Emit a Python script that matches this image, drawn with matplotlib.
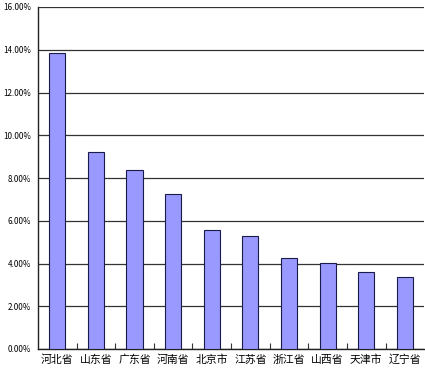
import matplotlib
matplotlib.use("Agg")
import matplotlib.pyplot as plt
from matplotlib.ticker import FuncFormatter, MultipleLocator, FixedLocator
import numpy as np

plt.rcParams['font.family'] = ['Noto Sans CJK SC', 'DejaVu Sans']

categories = ['河北省', '山东省', '广东省', '河南省', '北京市', '江苏省', '浙江省', '山西省', '天津市', '辽宁省']
values = [13.85, 9.22, 8.37, 7.25, 5.57, 5.28, 4.25, 4.02, 3.60, 3.37]

fig = plt.figure(figsize=(4.25, 3.75), dpi=100)
ax = fig.add_axes([38/425, 1 - 349/375, 1 - 38/425 - 0.002, (349 - 7)/375])

x = np.arange(len(categories))
ax.bar(x, values, width=0.42, color='#9999FF', edgecolor='#1a1a4d', linewidth=0.8, zorder=3)

ax.set_xlim(-0.5, len(categories) - 0.5)
ax.set_ylim(0, 16)
ax.yaxis.set_major_locator(MultipleLocator(2))
ax.yaxis.set_major_formatter(FuncFormatter(lambda v, p: f'{v:.2f}%'))
ax.grid(axis='y', color='#333333', linewidth=0.9, zorder=0)

ax.set_xticks(x)
ax.set_xticklabels(categories, fontsize=7.8)
ax.tick_params(axis='x', length=0, pad=4)
ax.xaxis.set_minor_locator(FixedLocator(np.arange(0.5, len(categories) - 0.5, 1)))
ax.tick_params(axis='x', which='minor', direction='in', length=4, width=0.8, color='#333333')
ax.tick_params(axis='y', length=0, pad=5, labelsize=5.8)

for s in ['top', 'right']:
    ax.spines[s].set_visible(False)
ax.spines['left'].set_color('#222222')
ax.spines['bottom'].set_color('#222222')
ax.spines['left'].set_linewidth(1.0)
ax.spines['bottom'].set_linewidth(1.0)

fig.savefig('out.png', dpi=100)
